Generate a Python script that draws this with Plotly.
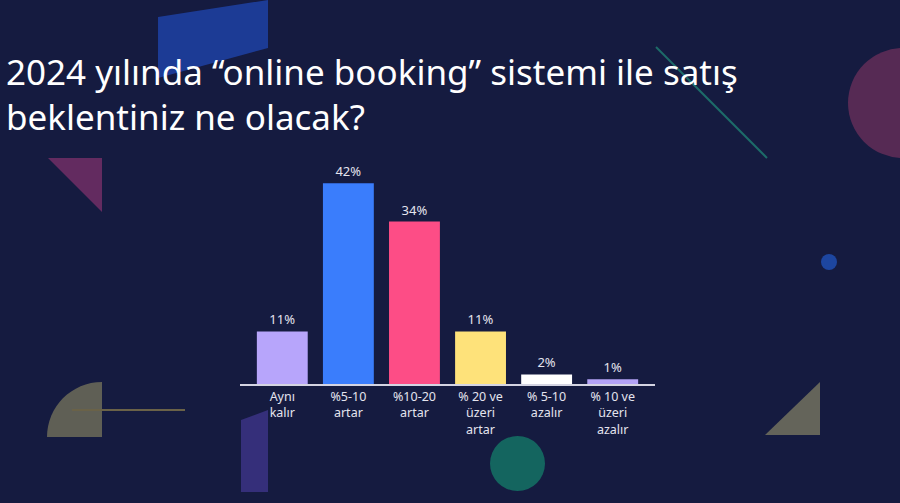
import plotly.graph_objects as go

categories = ["Aynı<br>kalır", "%5-10<br>artar", "%10-20<br>artar", "% 20 ve<br>üzeri<br>artar", "% 5-10<br>azalır", "% 10 ve<br>üzeri<br>azalır"]
values = [11, 42, 34, 11, 2, 1]
value_labels = ["11%", "42%", "34%", "11%", "2%", "1%"]
bar_colors = ["#b7a5fb", "#3a7dfc", "#fd4d86", "#fee27a", "#ffffff", "#b3a3f6"]

W, H = 900, 503
BG = "#151b40"

def px(x):
    return x / W

def py(y):
    return 1 - y / H

def path(points, close=True):
    s = "M " + " L ".join(f"{px(x):.5f},{py(y):.5f}" for x, y in points)
    return s + (" Z" if close else "")

fig = go.Figure()
fig.add_trace(go.Bar(
    x=categories, y=values, text=value_labels, textposition="outside",
    marker=dict(color=bar_colors, line=dict(width=0)),
    textfont=dict(color="#e4e4ee", size=13, family="Noto Sans"),
    cliponaxis=False, width=0.77,
))

shapes = []
# blue parallelogram top
shapes.append(dict(type="path", path=path([(158, 17), (268, 0), (268, 48), (158, 78)]),
                   fillcolor="#1c3b95", line=dict(width=0)))
# magenta triangle left
shapes.append(dict(type="path", path=path([(48, 158), (102, 158), (102, 212)]),
                   fillcolor="#632b60", line=dict(width=0)))
# teal diagonal line
shapes.append(dict(type="line", x0=px(656), y0=py(47), x1=px(767), y1=py(158),
                   line=dict(color="#1d6b68", width=2)))
# magenta circle right
shapes.append(dict(type="circle", x0=px(848), y0=py(48), x1=px(958), y1=py(158),
                   fillcolor="#562a54", line=dict(width=0)))
# small blue dot
shapes.append(dict(type="circle", x0=px(821), y0=py(254), x1=px(837), y1=py(270),
                   fillcolor="#1d46a0", line=dict(width=0)))
# gray triangle bottom-right
shapes.append(dict(type="path", path=path([(765, 435), (820, 435), (820, 382)]),
                   fillcolor="#64645a", line=dict(width=0)))
# quarter disc bottom-left
cx, cy, r = 102, 437, 55
k = 0.5523 * r
qpath = (f"M {px(cx):.5f},{py(cy):.5f} L {px(cx - r):.5f},{py(cy):.5f} "
         f"C {px(cx - r):.5f},{py(cy - k):.5f} {px(cx - k):.5f},{py(cy - r):.5f} {px(cx):.5f},{py(cy - r):.5f} Z")
shapes.append(dict(type="path", path=qpath, fillcolor="#5f5f55", line=dict(width=0)))
# olive line
shapes.append(dict(type="line", x0=px(72), y0=py(410), x1=px(185), y1=py(410),
                   line=dict(color="#6a6248", width=2)))
# purple quadrilateral below axis
shapes.append(dict(type="path", path=path([(241, 420), (268, 410), (268, 492), (241, 492)]),
                   fillcolor="#352f7a", line=dict(width=0)))
# teal circle bottom
shapes.append(dict(type="circle", x0=px(490), y0=py(436), x1=px(545), y1=py(491),
                   fillcolor="#14655f", line=dict(width=0)))
for s in shapes:
    s.update(xref="paper", yref="paper", layer="below")

title_font = dict(family="Noto Sans", size=35, color="#ffffff")
annotations = [
    dict(text="2024 yılında “online booking” sistemi ile satış", x=px(4), y=py(71),
         xref="paper", yref="paper", xanchor="left", yanchor="middle", showarrow=False, font=title_font),
    dict(text="beklentiniz ne olacak?", x=px(4), y=py(116),
         xref="paper", yref="paper", xanchor="left", yanchor="middle", showarrow=False, font=title_font),
]

fig.update_layout(
    width=W, height=H,
    margin=dict(l=0, r=0, t=0, b=0),
    paper_bgcolor=BG, plot_bgcolor="rgba(0,0,0,0)",
    showlegend=False,
    shapes=shapes, annotations=annotations,
    bargap=0.23,
    xaxis=dict(domain=[px(240), px(655)], range=[-0.64, 5.64], showgrid=False, zeroline=False,
               showline=True, linecolor="#d4d4e2", linewidth=2, ticks="",
               tickfont=dict(color="#e4e4ee", size=12.5, family="Noto Sans"), fixedrange=True),
    yaxis=dict(domain=[py(384), py(169)], range=[0, 45], visible=False, fixedrange=True),
)

fig.write_html("out.html", config={"displayModeBar": False},
               post_script="document.body.style.margin='0';document.body.style.background='#151b40';document.body.style.overflow='hidden';")
